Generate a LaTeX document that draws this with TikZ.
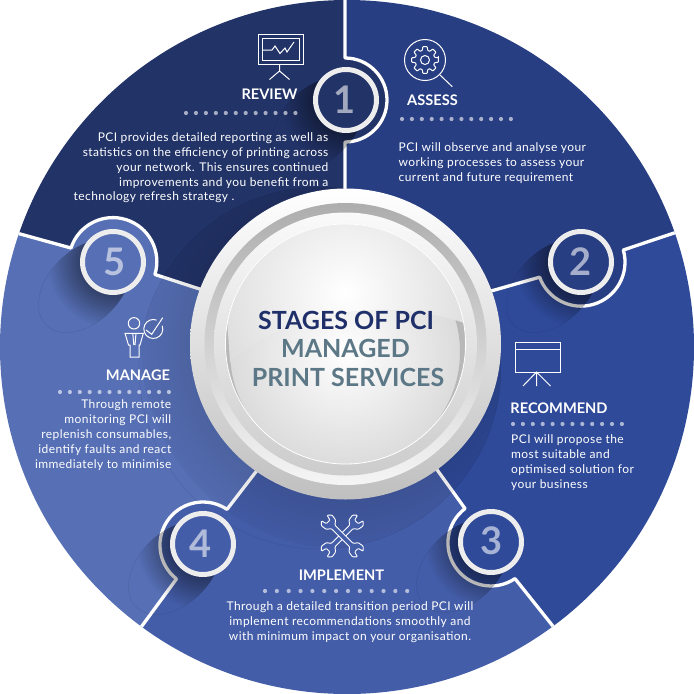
\documentclass[tikz,border=0pt]{standalone}
\usepackage{fontspec}
\setmainfont{Lato}
\newfontfamily\bodyFont[LetterSpace=3.5]{Lato}
\usetikzlibrary{fadings}
\definecolor{colorReview}{HTML}{223368}
\definecolor{colorAssess}{HTML}{283E83}
\definecolor{colorRecommend}{HTML}{2F4A99}
\definecolor{colorImplement}{HTML}{445DA8}
\definecolor{colorManage}{HTML}{566FB5}
\definecolor{colorStages}{HTML}{1E2F69}
\definecolor{colorManaged}{HTML}{5C7886}
\newcommand\badgeRadius{30.5}
\newcommand\bulgeRadius{43}
\tikzfading[name=shadowFade, inner color=transparent!18, outer color=transparent!100]
\tikzfading[name=ringFade, inner color=transparent!64, outer color=transparent!97]
\pgfdeclareradialshading{glossShade}{\pgfpoint{0bp}{0bp}}{color(0bp)=(white); color(50bp)=(black!28!white)}
\tikzset{
	separator/.style={draw=white, line width=3.3, line join=round},
	iconline/.style={draw=white, line width=1},
	bodytext/.style={text=white, inner sep=0, font=\bodyFont\fontsize{12}{15}\selectfont},
	headtext/.style={text=white, inner sep=0, font=\fontsize{14.6}{15}\selectfont\bfseries},
	stagetext/.style={inner sep=0, font=\fontsize{25}{28}\selectfont\bfseries},
	digit/.style={text=white, text opacity=0.58, inner sep=0, font=\fontsize{38}{38}\selectfont\bfseries},
}
% x y n dist
\newcommand\drawDots[4]{
	\foreach \i in {1,...,#3}{
		\fill[white, opacity=0.6] (#1+#4*\i-#4,#2) circle (2.1);
	}
}
\newcommand\drawShadow[1]{
	\begin{scope}[shift={(#1)}]
		\begin{scope}
			\clip[shift={(-28,24)}, rotate=45] (0,0) ellipse [x radius=55, y radius=36];
			\fill[black, path fading=shadowFade] (0,0) circle (66);
		\end{scope}
		\draw[black, opacity=0.1, line width=0.4, shift={(-28,24)}, rotate=45] (0,0) ellipse [x radius=55, y radius=36];
	\end{scope}
}
\newcommand\drawWrench[1]{
	\draw[iconline, fill=colorImplement, rounded corners=0.9, line width=0.9, shift={(342.3,536)}, rotate=#1]
		(-13,-2.5) -- (13,-2.5) -- (16,-6.6) -- (22,-7.6) -- (25.5,-4) -- (20,-2.5) -- (20,2.5) -- (25.5,4) -- (22,7.6) -- (16,6.6) -- (13,2.5)
		-- (-13,2.5) -- (-16,6.6) -- (-22,7.6) -- (-25.5,4) -- (-20,2.5) -- (-20,-2.5) -- (-25.5,-4) -- (-22,-7.6) -- (-16,-6.6) -- cycle;
}
\begin{document}
\begin{tikzpicture}[x=1pt, y=-1pt]
	\useasboundingbox (0,0) rectangle (694,694);
	\coordinate (hub) at (345.5,344);
	\coordinate (badgeReview) at (346,100);
	\coordinate (badgeAssess) at (581,262);
	\coordinate (badgeRecommend) at (491,542);
	\coordinate (badgeImplement) at (203,544);
	\coordinate (badgeManage) at (113,262);

	\begin{scope}
		\clip (347,347) circle (347);
		\fill[colorReview] (hub) -- (198,288) -- (155,275) -- (71,248) -- (0,228) -- (0,0) -- (345,0) -- cycle;
		\fill[colorAssess] (hub) -- (345,0) -- (694,0) -- (694,227) -- (624,250) -- (540,277) -- (492,290) -- cycle;
		\fill[colorRecommend] (hub) -- (492,290) -- (540,277) -- (624,250) -- (694,227) -- (694,694) -- (600,694) -- (552,625) -- (515,578) -- (465,509) -- cycle;
		\fill[colorImplement] (hub) -- (465,509) -- (515,578) -- (552,625) -- (600,694) -- (100,694) -- (143,625) -- (177,579) -- (227,510) -- cycle;
		\fill[colorManage] (hub) -- (227,510) -- (177,579) -- (143,625) -- (100,694) -- (0,694) -- (0,228) -- (71,248) -- (155,275) -- (198,288) -- cycle;

		\fill[colorReview] (badgeReview) circle (\bulgeRadius);
		\fill[colorAssess] (badgeAssess) circle (\bulgeRadius);
		\fill[colorRecommend] (badgeRecommend) circle (\bulgeRadius);
		\fill[colorImplement] (badgeImplement) circle (\bulgeRadius);
		\fill[colorManage] (badgeManage) circle (\bulgeRadius);

		\draw[separator] (345,-2) -- (345,58) arc[start angle=-90, end angle=90, radius=42] -- (345,200);
		\draw[separator] (680,231) -- (623.3,250) arc[start angle=-16, end angle=160, radius=44] -- (470,297);
		\draw[separator] (556,630) -- (515,578.6) arc[start angle=56, end angle=233, radius=43] -- (425,453);
		\draw[separator] (139,630) -- (176.5,578.9) arc[start angle=128, end angle=304, radius=43] -- (265,460);
		\draw[separator] (13,232) -- (71,248) arc[start angle=198, end angle=377, radius=44] -- (215,294);

		% soft ring round the disk, not over the assess part
		\clip (hub) -- (345,0) -- (0,0) -- (0,694) -- (694,694) -- (694,227) -- cycle;
		\begin{scope}
			\clip (320,368) circle (181);
			\fill[black, path fading=ringFade] (hub) circle (205);
		\end{scope}
		\draw[black, opacity=0.1, line width=0.4] (320,368) circle (181);
	\end{scope}

	\drawShadow{badgeReview}
	\drawShadow{badgeAssess}
	\drawShadow{badgeRecommend}
	\drawShadow{badgeImplement}
	\drawShadow{badgeManage}

	\draw[draw=white!93!black, line width=5, fill=colorReview] (badgeReview) circle (\badgeRadius);
	\draw[draw=white!93!black, line width=5, fill=colorAssess] (badgeAssess) circle (\badgeRadius);
	\draw[draw=white!93!black, line width=5, fill=colorRecommend] (badgeRecommend) circle (\badgeRadius);
	\draw[draw=white!93!black, line width=5, fill=colorImplement] (badgeImplement) circle (\badgeRadius);
	\draw[draw=white!93!black, line width=5, fill=colorManage] (badgeManage) circle (\badgeRadius);

	\node[digit] (digitOne) at (345,100) {1};
	\node[digit] (digitTwo) at (581,262) {2};
	\node[digit] (digitThree) at (492,541) {3};
	\node[digit] (digitFour) at (201,544) {4};
	\node[digit] (digitFive) at (115,262) {5};

	% centre disk
	\shade[top color=white, bottom color=black!25!white] (hub) circle (155.5);
	\shade[top color=black!32!white, bottom color=white!96!black] (hub) circle (141);
	\shade[top color=white!98!black, bottom color=black!20!white] (hub) circle (131.5);
	\begin{scope}
		\clip (hub) circle (120);
		\shade[shading=glossShade] (345,352) circle (115);
		\fill[black!28!white, even odd rule] (hub) circle (121) (345,352) circle (115);
		\begin{scope}
			\clip (230,362) .. controls (290,310) and (390,295) .. (470,325) -- (470,215) -- (220,215) -- cycle;
			\shade[shading=glossShade] (345,293) circle (140);
		\end{scope}
	\end{scope}
	\draw[white, line width=0.8] (hub) circle (120);

	\node[stagetext, text=colorStages] (titleStages) at (346,320.5) {STAGES OF PCI};
	\node[stagetext, text=colorManaged] (titleManaged) at (345.5,348.5) {MANAGED};
	\node[stagetext, text=colorManaged] (titlePrint) at (348,377) {PRINT SERVICES};

	% review
	\draw[iconline] (258,34) rectangle (303,64);
	\draw[iconline] (262.5,38) rectangle (299,60);
	\draw[iconline] (262.5,50) -- (272,50) -- (275,46) -- (280,53.5) -- (285,48) -- (287,52) -- (294,42);
	\draw[iconline] (279.5,64) -- (279.5,71) (269.5,79.5) -- (279.5,71) -- (289.5,79.5);
	\node[headtext] (headReview) at (269.5,94.5) {REVIEW};
	\drawDots{186}{113}{12}{9.95}
	\node[bodytext, anchor=east, align=right] (textReview) at (328.5,160.5) {PCI provides detailed reporting as well as\\statistics on the efficiency of printing across\\your network. This ensures continued\\improvements and you benefit from a};
	\node[bodytext, anchor=west] (textReviewEnd) at (73.5,197.5) {technology refresh strategy .};

	% assess
	\draw[iconline] (425,60) circle (20.5);
	\draw[iconline] (425,60) circle (4.5);
	\begin{scope}[shift={(425,60)}]
		\draw[iconline, rounded corners=0.7]
			(-10:13.5) \foreach \a in {0,45,...,315}{ -- (\a-10:13.5) -- (\a+10:13.5) -- (\a+15:10) -- (\a+30:10) } -- cycle;
	\end{scope}
	\draw[iconline] (440,75) -- (452.3,86.7);
	\node[headtext] (headAssess) at (432.5,100) {ASSESS};
	\drawDots{402}{119}{12}{9.9}
	\node[bodytext, anchor=west, align=left] (textAssess) at (398.5,163) {PCI will observe and analyse your\\working processes to assess your\\current and future requirement};

	% recommend
	\draw[iconline] (515,342) rectangle (560,372);
	\draw[iconline] (515,349) -- (560,349);
	\draw[iconline] (536.5,372) -- (536.5,386) (523,386) -- (536.5,372) -- (550.5,386);
	\node[headtext] (headRecommend) at (559,408) {RECOMMEND};
	\drawDots{513}{424}{12}{9.9}
	\node[bodytext, anchor=west, align=left] (textRecommend) at (511,462.5) {PCI will propose the\\most suitable and\\optimised solution for\\your business};

	% implement
	\drawWrench{45}
	\drawWrench{-45}
	\node[headtext] (headImplement) at (341.5,575) {IMPLEMENT};
	\drawDots{265}{591}{13}{11.85}
	\node[bodytext, align=center] (textImplement) at (350,622) {Through a detailed transition period PCI will\\implement recommendations smoothly and\\with minimum impact on your organisation.};

	% manage
	\draw[iconline] (134,323.3) circle (5.7);
	\draw[iconline] (125,333.3) -- (143.3,333.3) -- (140,345) -- (139,345) -- (139,357) -- (130,357) -- (130,345) -- (128.5,345) -- cycle;
	\draw[iconline] (132.8,333.3) -- (133.8,345) (136,333.3) -- (135,345);
	\draw[iconline] (153.3,329) ++(-20:9.5) arc[start angle=-20, end angle=290, radius=9.5];
	\draw[iconline] (146,330) -- (151.7,334.3) -- (162.7,317.7);
	\node[headtext] (headManage) at (138,375) {MANAGE};
	\drawDots{60}{392}{12}{9.9}
	\node[bodytext, anchor=east, align=right] (textManage) at (171.5,435) {Through remote\\monitoring PCI will\\replenish consumables,\\identify faults and react\\immediately to minimise};
\end{tikzpicture}
\end{document}
